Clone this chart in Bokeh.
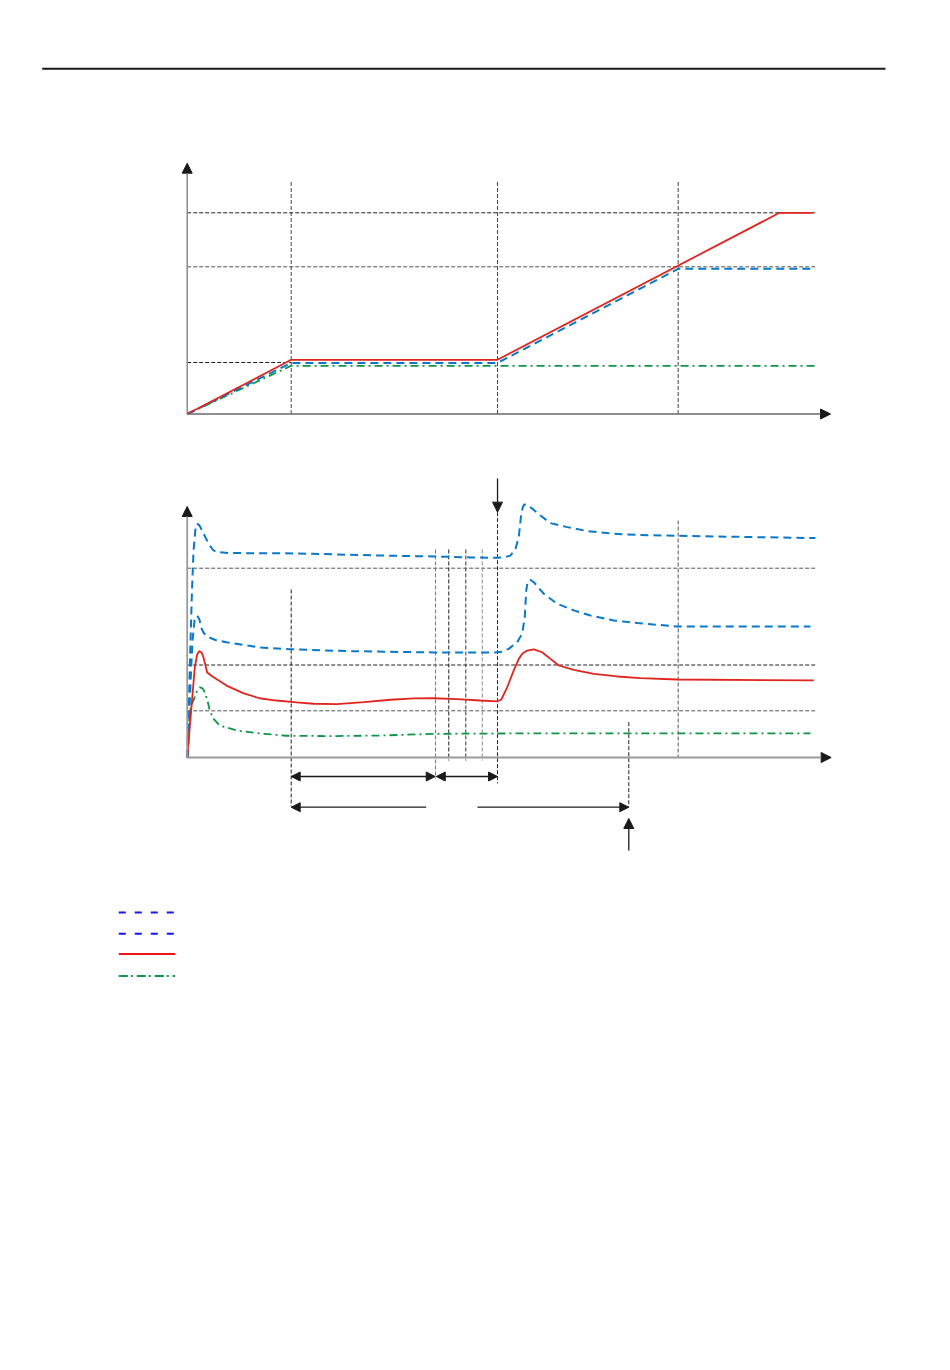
from bokeh.plotting import figure
from bokeh.models import Range1d, Arrow, NormalHead
from bokeh.embed import file_html
from bokeh.resources import INLINE

# ---------------- data (arbitrary units) ----------------
# upper chart: time marks and levels
top_marks_t = [10.0, 29.84, 47.21]
top_levels = [100.0, 73.16, 25.6]
top_level_end = [60.41, 60.41, 10.0]

top_red_t = [0, 10.0, 29.84, 56.95, 60.13]
top_red_v = [0, 26.94, 26.94, 100.0, 100.0]
top_blue_t = [0, 10.0, 29.84, 47.21, 60.41]
top_blue_v = [0, 25.35, 25.35, 72.17, 72.17]
top_green_t = [0, 10.0, 60.41]
top_green_v = [0, 23.96, 23.96]

# lower chart
bot_levels = [100.0, 48.86, 24.67]
bot_level_end = 60.41

b1_t = [0, 0.17, 0.32, 0.46, 0.61, 0.80, 0.96, 1.18, 1.57, 2.05, 2.44, 2.79, 4.16,
        10.51, 18.59, 23.68, 27.24, 29.84, 30.61, 31.09, 31.57, 31.88, 32.12, 32.29,
        32.43, 32.72, 33.01, 33.97, 34.93, 36.54, 38.46, 41.02, 43.27, 47.14, 60.41]
b1_v = [0, 30.1, 61.8, 88.2, 109.4, 121.0, 123.5, 122.6, 118.3, 113.1, 109.9, 108.5, 108.0,
        107.8, 106.7, 106.2, 105.7, 105.5, 105.9, 106.7, 110.3, 116.4, 128.7, 132.6,
        133.7, 133.4, 132.2, 127.8, 123.8, 121.7, 119.6, 118.2, 117.6, 117.1, 115.9]

b2_t = [0.08, 0.22, 0.37, 0.51, 0.70, 0.96, 1.18, 1.33, 1.62, 2.02, 2.72, 3.78, 6.95,
        9.84, 15.38, 23.68, 29.45, 30.12, 30.92, 31.73, 32.21, 32.46, 32.60, 32.72,
        32.85, 33.01, 33.33, 34.29, 35.58, 37.17, 38.78, 41.02, 43.27, 47.12, 59.93]
b2_v = [0, 24.8, 46.0, 61.8, 72.4, 75.0, 72.9, 68.7, 65.5, 63.6, 62.1, 60.9, 58.1,
        57.2, 56.2, 55.5, 55.5, 55.7, 57.4, 60.9, 65.4, 74.1, 88.2, 92.5,
        93.5, 93.8, 92.6, 86.5, 81.2, 77.7, 75.0, 72.4, 71.0, 69.2, 69.2]

red_t = [0, 0.41, 0.73, 0.96, 1.15, 1.38, 1.57, 1.76, 1.92, 2.43, 3.78, 5.38, 6.95, 8.59,
         10.51, 12.17, 14.42, 16.98, 19.55, 21.79, 23.71, 25.96, 28.20, 29.81, 30.19,
         30.77, 31.40, 31.88, 32.24, 32.69, 33.33, 34.13, 34.93, 35.73, 37.17, 39.10,
         41.35, 43.59, 47.12, 60.25]
red_v = [0, 26.6, 47.7, 54.4, 56.2, 55.5, 52.8, 48.6, 44.9, 42.8, 38.0, 34.0, 31.3, 30.1,
         29.1, 28.4, 28.2, 29.2, 30.5, 31.2, 31.3, 30.8, 30.1, 29.7, 30.5,
         37.1, 46.0, 52.1, 54.9, 56.5, 57.1, 55.6, 52.1, 48.6, 46.3, 44.2,
         42.8, 41.9, 41.2, 40.7]

green_t = [0, 0.25, 0.51, 0.73, 0.99, 1.21, 1.47, 1.69, 1.95, 2.17, 2.50, 3.13, 4.74,
           6.95, 9.55, 13.78, 18.59, 23.71, 31.09, 41.95, 59.93]
green_v = [0, 24.8, 29.1, 31.9, 35.9, 37.1, 36.5, 34.5, 30.1, 24.8, 20.6, 16.9, 14.3,
           12.7, 11.5, 11.3, 11.6, 12.5, 12.7, 12.7, 12.7]

# lower chart marks: (t, v_from, v_to, color)
bot_marks_t = [10.0, 47.21, 23.88, 25.15, 26.79, 28.37, 29.84, 42.46]
bot_marks_top = [88.75, 125.2, 109.9, 109.9, 109.9, 109.9, 129.6, 18.65]
bot_marks_bot = [-25.9, 0.0, -11.1, -1.6, -1.6, -1.6, -13.7, -26.3]
bot_marks_col = ["#222222", "#555555", "#777777", "#222222", "#333333", "#888888", "#222222", "#222222"]

# interval arrows in lower chart
span_row1_v = -10.04
span_row1 = [(10.0, 23.85), (23.95, 29.84)]
span_row2_v = -26.25
span_row2 = [(22.98, 10.0), (27.91, 42.46)]

# ---------------- layout constants ----------------
W, H = 934, 1354
PAGE_X0, PAGE_Y0 = 0, 0          # figure origin on the photographed page
X0_PX, KX = 186.7, 10.4          # time origin (page px), px per time unit
TOP_Y0, KY_TOP = 413.5, 2.012    # upper chart baseline, px per unit
BOT_Y0, KY_BOT = 757.0, 1.893    # lower chart baseline, px per unit

def xr():
    return Range1d((PAGE_X0 - X0_PX) / KX, (PAGE_X0 + W - X0_PX) / KX)

def yr(y0, k):
    return Range1d((y0 - (PAGE_Y0 + H)) / k, (y0 - PAGE_Y0) / k)

p = figure(width=W, height=H, output_backend="svg", toolbar_location=None,
           x_range=xr(), y_range=yr(TOP_Y0, KY_TOP),
           x_axis_location=None, y_axis_location=None,
           min_border=0, min_border_left=0, min_border_right=0,
           min_border_top=0, min_border_bottom=0)
p.extra_y_ranges = {"bot": yr(BOT_Y0, KY_BOT), "page": Range1d(PAGE_Y0 + H, PAGE_Y0)}
p.extra_x_ranges = {"px": Range1d(PAGE_X0, PAGE_X0 + W)}
p.grid.visible = False
p.outline_line_color = None
p.background_fill_color = "white"
p.border_fill_color = "white"

BLUE = "#0a78c8"
RED = "#e0251e"
GREEN = "#0f9448"
DASH_B = "8 5"
DASH_G = "8 4 2 4"
REF_DASH = "4 2"

def head(c="#1a1a1a", s=10):
    return NormalHead(size=s, fill_color=c, line_color=c, line_width=1)

def arrow(x0, y0, x1, y1, yname="default", both=False, color="#1a1a1a", lw=1.3, line_color=None, s=10):
    kw = {}
    if yname != "default":
        kw["y_range_name"] = yname
    p.add_layout(Arrow(x_start=x0, y_start=y0, x_end=x1, y_end=y1,
                       end=head(color, s), start=head(color, s) if both else None,
                       line_color=line_color or color, line_width=lw, **kw))

# header rule
p.line([41.7, 885], [68.3, 68.3], x_range_name="px", y_range_name="page",
       line_color="#1a1a1a", line_width=2)

# ---------- upper chart ----------
for t in top_marks_t:
    p.line([t, t], [0, 115.7], line_color="#444444", line_width=1, line_dash=REF_DASH)
for lv, te, c in zip(top_levels, top_level_end, ["#222222", "#555555", "#222222"]):
    p.line([0, te], [lv, lv], line_color=c, line_width=1, line_dash=REF_DASH)

p.line(top_green_t, top_green_v, line_color=GREEN, line_width=1.8, line_dash=DASH_G)
p.line(top_blue_t, top_blue_v, line_color=BLUE, line_width=2, line_dash=DASH_B)
p.line(top_red_t, top_red_v, line_color=RED, line_width=1.8)

arrow(0, 0, 0, 124.65, line_color="#8a8a8a", lw=1.5)
arrow(0, 0, 61.86, 0, line_color="#6a6a6a", lw=1.5)

# ---------- lower chart ----------
for lv, c in zip(bot_levels, ["#555555", "#222222", "#555555"]):
    p.line([0, bot_level_end], [lv, lv], y_range_name="bot",
           line_color=c, line_width=1, line_dash=REF_DASH)
for t, a, b, c in zip(bot_marks_t, bot_marks_top, bot_marks_bot, bot_marks_col):
    p.line([t, t], [a, b], y_range_name="bot", line_color=c, line_width=1, line_dash=REF_DASH)

p.line(green_t, green_v, y_range_name="bot", line_color=GREEN, line_width=1.8, line_dash=DASH_G)
p.line(b2_t, b2_v, y_range_name="bot", line_color=BLUE, line_width=2, line_dash=DASH_B)
p.line(b1_t, b1_v, y_range_name="bot", line_color=BLUE, line_width=2, line_dash=DASH_B)
p.line(red_t, red_v, y_range_name="bot", line_color=RED, line_width=1.8)

arrow(0, 0, 0, 132.6, yname="bot", line_color="#9a9a9a", lw=1.8)
arrow(0, 0, 61.92, 0, yname="bot", line_color="#9a9a9a", lw=2)

# event arrows
arrow(29.84, 147.4, 29.84, 129.6, yname="bot", lw=1.3)
arrow(42.46, -49.1, 42.46, -32.2, yname="bot", lw=1.3)

# interval arrows
for a, b in span_row1:
    arrow(a, span_row1_v, b, span_row1_v, yname="bot", both=True, s=9)
for a, b in span_row2:
    arrow(a, span_row2_v, b, span_row2_v, yname="bot", s=9)

# ---------- legend samples ----------
leg_x = [118.3, 174.7]
leg_y = [912.0, 933.3, 953.5, 975.5]
leg_col = ["#1515f0", "#1515f0", "#f01515", "#0f9448"]
leg_dash = ["7 9", "7 9", "solid", "9 3 2 4"]
for y, c, d in zip(leg_y, leg_col, leg_dash):
    p.line(leg_x, [y, y], x_range_name="px", y_range_name="page",
           line_color=c, line_width=2, line_dash=d)

open("out.html", "w").write(file_html(p, INLINE))
